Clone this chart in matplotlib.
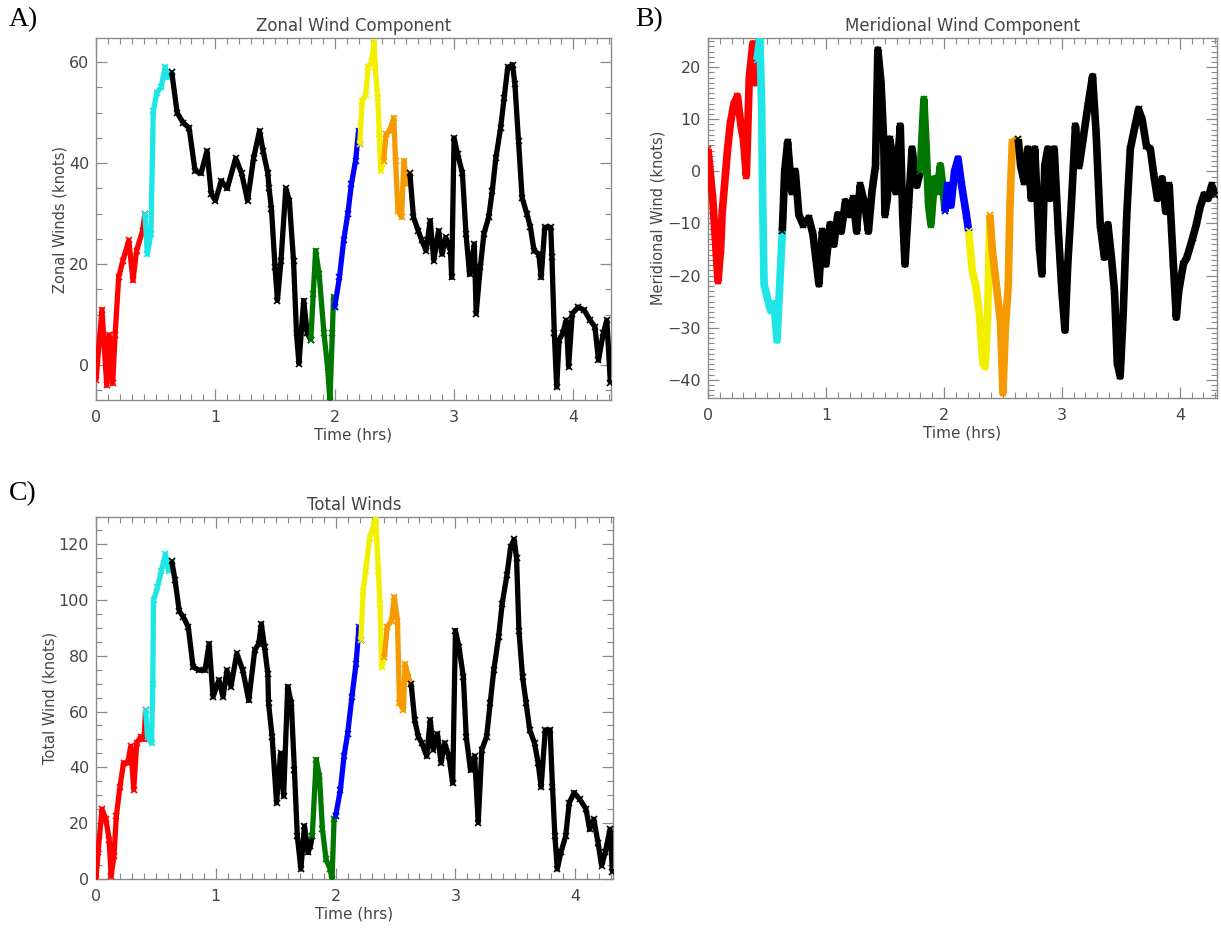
import matplotlib
matplotlib.use('Agg')
import matplotlib.pyplot as plt
from matplotlib.ticker import MultipleLocator

# ---- flight phases (hours) and their colours ----
phase_edges = [0.0, 0.405, 0.62, 1.795, 1.998, 2.205, 2.388, 2.62, 4.4]
phase_colors = ['#ff0000', '#1ee6e6', '#000000', '#007800', '#0000ff',
                '#f2f000', '#f59a00', '#000000']

# ---- A) zonal wind ----
zonal_t = [0.0, 0.05, 0.09, 0.11, 0.14, 0.16, 0.19, 0.225, 0.275, 0.31, 0.34, 0.39,
           0.41, 0.43, 0.46, 0.48, 0.51, 0.545, 0.58, 0.6,
           0.635, 0.68, 0.73, 0.78, 0.83, 0.88, 0.93, 0.965, 1.0, 1.05, 1.1, 1.17, 1.22,
           1.27, 1.32, 1.37, 1.40, 1.44, 1.45, 1.47, 1.50, 1.52, 1.55, 1.59, 1.62, 1.655,
           1.68, 1.70, 1.74, 1.77,
           1.80, 1.82, 1.84, 1.87, 1.91, 1.94, 1.96, 1.98, 1.99,
           2.0, 2.04, 2.075, 2.11, 2.14, 2.175, 2.2,
           2.21, 2.23, 2.26, 2.28, 2.31, 2.33, 2.34, 2.36, 2.375, 2.385,
           2.41, 2.43, 2.46, 2.495, 2.51, 2.53, 2.56, 2.58, 2.605,
           2.63, 2.66, 2.70, 2.73, 2.765, 2.80, 2.83, 2.87, 2.90, 2.93, 2.97, 2.98, 3.0,
           3.03, 3.07, 3.10, 3.13, 3.17, 3.185, 3.22, 3.25, 3.29, 3.32, 3.35, 3.39, 3.42,
           3.45, 3.49, 3.51, 3.54, 3.57, 3.61, 3.64, 3.67, 3.71, 3.73, 3.76, 3.81, 3.82,
           3.84, 3.86, 3.88, 3.91, 3.94, 3.96, 3.99, 4.04, 4.09, 4.14, 4.18, 4.21, 4.25,
           4.28, 4.31]
zonal_v = [-3, 11, -4, 6, -3.6, 6, 17.4, 20.7, 24.7, 16.8, 22.7, 26.6,
           30, 22, 26, 50.3, 54, 55, 59, 57,
           58, 50, 48, 47, 38.5, 38, 42.4, 34, 32.6, 36.5, 35, 41, 38,
           32.6, 41, 46.4, 42.4, 38, 35, 31, 19.4, 12.8, 20.7, 35, 32.6, 20.7,
           6.3, 0.3, 12.8, 6.3,
           5, 14, 22.7, 18, 6.3, -0.3, -7, 6.3, 13.5,
           11.5, 17.4, 24.7, 30, 35.9, 40.5, 46.4,
           43.8, 52.3, 53.6, 59, 60.2, 64, 59, 53, 45.7, 38.5,
           40.5, 45.7, 46.4, 49, 40.5, 30.6, 29.3, 40.5, 35.9,
           38, 29.3, 26.6, 24.7, 22.7, 28.6, 20.7, 26.6, 22, 25.3, 22.7, 17.4, 45,
           41.8, 38, 26, 18, 24, 10.2, 19.4, 26, 29.3, 34.5, 41, 47, 53,
           59, 59.5, 55.6, 44.4, 33.2, 30, 27.3, 22.7, 22, 17.4, 27.3, 27.3, 21.4,
           6.3, -4.3, 5, 6.3, 8.9, -0.3, 10.2, 11.5, 10.9, 8.9, 7.6, 1, 6.3,
           8.9, -3.6]

# ---- B) meridional wind ----
merid_t = [0.0, 0.04, 0.085, 0.107, 0.12, 0.15, 0.166, 0.19, 0.22, 0.25, 0.28, 0.30,
           0.325, 0.35, 0.38, 0.40,
           0.415, 0.44, 0.455, 0.465, 0.475, 0.5, 0.53, 0.56, 0.585,
           0.63, 0.65, 0.675, 0.71, 0.74, 0.77, 0.805, 0.855, 0.89, 0.92, 0.94, 0.97,
           1.0, 1.035, 1.067, 1.10, 1.13, 1.165, 1.197, 1.23, 1.26, 1.29, 1.33, 1.36,
           1.39, 1.42, 1.44, 1.467, 1.49, 1.50, 1.52, 1.54, 1.57, 1.59, 1.63, 1.65,
           1.67, 1.70, 1.73, 1.77,
           1.80, 1.83, 1.85, 1.87, 1.89, 1.92, 1.94, 1.97, 1.99,
           2.01, 2.03, 2.06, 2.09, 2.12, 2.15, 2.19,
           2.21, 2.24, 2.27, 2.30, 2.33, 2.35, 2.37,
           2.39, 2.41, 2.45, 2.48, 2.50, 2.52, 2.545, 2.56, 2.58,
           2.63, 2.65, 2.68, 2.71, 2.74, 2.77, 2.81, 2.83, 2.855, 2.88, 2.90, 2.935,
           2.97, 3.0, 3.026, 3.05, 3.08, 3.115, 3.147, 3.18, 3.22, 3.26, 3.29, 3.325,
           3.36, 3.39, 3.42, 3.446, 3.47, 3.494, 3.52, 3.55, 3.58, 3.62, 3.65, 3.68,
           3.717, 3.75, 3.78, 3.81, 3.85, 3.88, 3.91, 3.945, 3.97, 3.99, 4.03, 4.06,
           4.11, 4.14, 4.17, 4.205, 4.24, 4.27, 4.30]
merid_v = [4.3, -5.2, -21, -15, -8, 0, 4.3, 9.3, 13, 14.4, 8.7, 6.2,
           -0.8, 18, 24.5, 17,
           21.4, 25.7, 11.9, -8, -21.6, -24, -26.7, -25.4, -32.4,
           -11.5, 0, 5.6, -3.9, 0, -8.3, -10.2, -9, -12.1, -17.8, -21.6, -11.5,
           -17.8, -10.2, -14, -8.3, -11.5, -5.8, -8.3, -5.2, -11.5, -2.7, -6.5, -11.5,
           -3.9, 1.1, 23.3, 17, 5.6, -8.3, -5.2, 6.2, 2.4, -3.9, 8.7, -8.3,
           -17.8, -6.5, 4.3, -2.7,
           0, 13.8, 4.3, -6.5, -10.2, -1.4, -3.9, 1.1, -2.7,
           -7.7, -2.7, -6.5, 0, 2.4, -2.7, -8.3,
           -11.5, -19, -22, -27.2, -36.8, -37.5, -28,
           -8.3, -15, -23, -29, -42.5, -30.5, -22, -6.5, 5.6,
           6.2, 1.1, -2, 4.3, -5.2, 4.3, -14.7, -19.7, 1.1, 4.3, -5.2, 4.3,
           -11.5, -23, -30.5, -17.8, -6.5, 8.7, 1.1, 6.2, 12.5, 18.2, 7.5, -10.2,
           -16.5, -10.2, -16.5, -23, -36.8, -39.3, -27.2, -8.3, 4.3, 8.7, 11.9, 10,
           4.9, 4.3, -0.8, -5.2, -1.4, -7.7, -2.7, -17.8, -28, -23, -17.8, -16.5,
           -12.7, -10.2, -7, -4.5, -5.2, -2.7, -4.5]

# ---- C) total wind ----
total_t = [0.0, 0.017, 0.05, 0.083, 0.11, 0.126, 0.15, 0.17, 0.2, 0.23, 0.265, 0.29,
           0.315, 0.34, 0.374, 0.40,
           0.414, 0.43, 0.464, 0.474, 0.48, 0.513, 0.546, 0.58, 0.606,
           0.632, 0.66, 0.695, 0.73, 0.77, 0.81, 0.86, 0.91, 0.944, 0.977, 1.026, 1.06,
           1.093, 1.126, 1.175, 1.225, 1.275, 1.325, 1.358, 1.38, 1.407, 1.434, 1.44,
           1.47, 1.507, 1.54, 1.566, 1.6, 1.63, 1.656, 1.68, 1.71, 1.74, 1.77, 1.79,
           1.805, 1.838, 1.865, 1.89, 1.92, 1.954, 1.97, 1.987,
           2.0, 2.04, 2.07, 2.1, 2.136, 2.17, 2.195,
           2.21, 2.23, 2.25, 2.285, 2.32, 2.334, 2.357, 2.37, 2.385,
           2.407, 2.43, 2.467, 2.49, 2.516, 2.533, 2.566, 2.58, 2.607,
           2.63, 2.66, 2.69, 2.72, 2.76, 2.79, 2.815, 2.85, 2.88, 2.91, 2.945, 2.977,
           3.0, 3.03, 3.066, 3.09, 3.126, 3.16, 3.19, 3.22, 3.26, 3.29, 3.32, 3.36,
           3.39, 3.43, 3.46, 3.49, 3.51, 3.53, 3.56, 3.59, 3.62, 3.66, 3.69, 3.715,
           3.75, 3.79, 3.81, 3.83, 3.85, 3.88, 3.92, 3.95, 3.99, 4.04, 4.09, 4.12,
           4.155, 4.19, 4.22, 4.25, 4.29, 4.31]
total_v = [0, 9.5, 25, 21.4, 14, 1, 8.3, 22.6, 33, 41.6, 41.6, 47.5,
           32, 48.7, 51, 50,
           60.6, 51, 48.7, 70, 99.8, 104.5, 110.5, 116.4, 110.5,
           114, 107, 96, 93.8, 90.3, 76, 74.8, 74.8, 84.3, 65.3, 71.3, 65.3,
           74.8, 68.9, 80.8, 74.8, 64, 82, 84.3, 91.4, 83, 73.6, 63,
           51, 27.3, 45, 29.7, 68.9, 63, 39, 15.4, 3.6, 19, 9.5, 11.9,
           15.4, 42.8, 36.8, 17.8, 7, 3.6, 0, 21.4,
           22.6, 32, 44, 52, 65.3, 77, 90.3,
           85.5, 103.3, 110.5, 122.3, 127, 129.5, 110.5, 98.6, 76,
           79.6, 90.3, 92.6, 101, 92.6, 63, 60.6, 77, 72.4,
           70, 57, 51, 48.7, 44, 57, 46.3, 52, 41.6, 48.7, 44, 34.4,
           89, 83, 72.4, 51, 39, 44, 20.2, 46.3, 51, 63, 74.8, 86.7,
           98.6, 109, 118.8, 121.7, 115, 89, 72.4, 63, 53.4, 48.7, 41.6, 33,
           53.4, 53.4, 33, 15.4, 3.6, 9.5, 15.4, 27.3, 30.9, 28.5, 25, 17.8,
           21.4, 13, 4.8, 9.5, 17.8, 2.4]

TEXT = '#454545'
FRAME = '#8a8a8a'


def draw_panel(fig, rect, t, v, ylim, ymajor, yminor, title, ylabel, letter,
               letter_xy, lw):
    ax = fig.add_axes(rect)
    n = len(t)
    for k in range(len(phase_colors)):
        lo, hi = phase_edges[k], phase_edges[k + 1]
        idx = [i for i in range(n) if lo <= t[i] < hi]
        if not idx:
            continue
        if idx[-1] + 1 < n:
            idx = idx + [idx[-1] + 1]
        xs = [t[i] for i in idx]
        ys = [v[i] for i in idx]
        ax.plot(xs, ys, color=phase_colors[k], lw=lw, solid_joinstyle='round',
                solid_capstyle='butt', marker='x', ms=4, mew=1.2, zorder=3)
    ax.set_xlim(0, 4.315)
    ax.set_ylim(*ylim)
    ax.xaxis.set_major_locator(MultipleLocator(1))
    ax.xaxis.set_minor_locator(MultipleLocator(0.1))
    ax.yaxis.set_major_locator(MultipleLocator(ymajor))
    ax.yaxis.set_minor_locator(MultipleLocator(yminor))
    ax.tick_params(which='both', direction='in', top=True, right=True,
                   color=FRAME, labelcolor=TEXT, labelsize=11.5)
    ax.tick_params(axis='x', which='both', pad=7)
    ax.tick_params(axis='y', which='both', pad=5)
    ax.tick_params(which='major', length=8, width=0.9)
    ax.tick_params(which='minor', length=4, width=0.8)
    for s in ax.spines.values():
        s.set_color(FRAME)
        s.set_linewidth(1.0)
    ax.set_title(title, color=TEXT, fontsize=12, pad=5)
    ax.set_xlabel('Time (hrs)', color=TEXT, fontsize=11, labelpad=2)
    ax.set_ylabel(ylabel, color=TEXT, fontsize=10.5, labelpad=1)
    fig.text(letter_xy[0], letter_xy[1], letter, family='Liberation Serif',
             fontsize=20, color='black', va='center', ha='left')
    return ax


fig = plt.figure(figsize=(12.21, 9.30), dpi=100)

draw_panel(fig, [96 / 1221, 1 - 400 / 930, 515 / 1221, 362 / 930],
           zonal_t, zonal_v, (-6.9, 64.8), 20, 5,
           'Zonal Wind Component', 'Zonal Winds (knots)', 'A)', (9 / 1221, 1 - 20 / 930), 3.8)
draw_panel(fig, [708 / 1221, 1 - 398 / 930, 509 / 1221, 360 / 930],
           merid_t, merid_v, (-43.5, 25.6), 10, 1,
           'Meridional Wind Component', 'Meridional Wind (knots)', 'B)', (635 / 1221, 1 - 20 / 930), 5.5)
draw_panel(fig, [96 / 1221, 1 - 879 / 930, 517 / 1221, 362 / 930],
           total_t, total_v, (0, 129.7), 20, 5,
           'Total Winds', 'Total Wind (knots)', 'C)', (9 / 1221, 1 - 494 / 930), 3.8)

fig.savefig('out.png', dpi=100, facecolor='white')
